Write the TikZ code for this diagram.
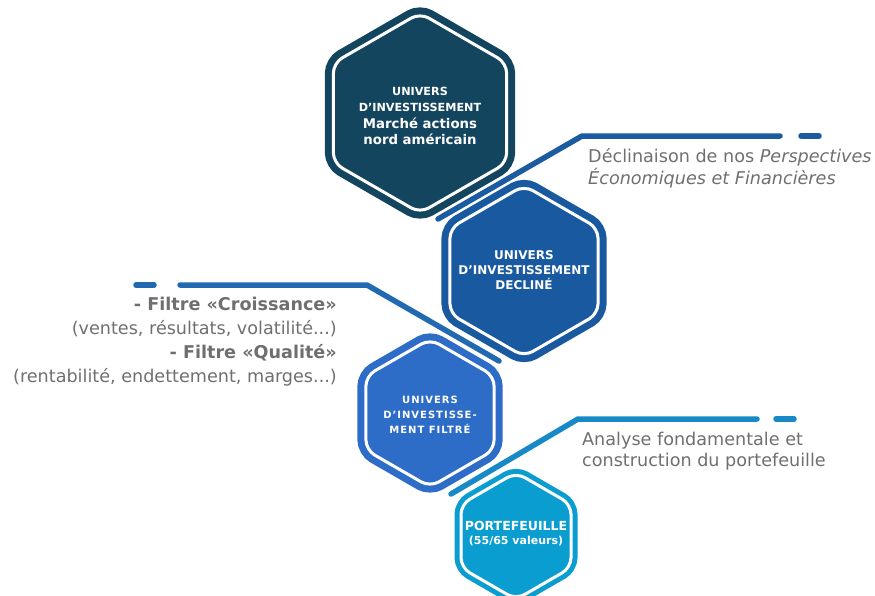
\documentclass[tikz,border=0pt]{standalone}
\usepackage{fontspec}
\setmainfont{DejaVu Sans}
\newfontfamily\espacee[LetterSpace=10]{DejaVu Sans}
\usetikzlibrary{shapes.geometric}
\definecolor{univers}{HTML}{14455F}
\definecolor{decline}{HTML}{1959A0}
\definecolor{filtre}{HTML}{2D6CC7}
\definecolor{portef}{HTML}{0A9DD0}
\definecolor{lienA}{HTML}{1A5C9F}
\definecolor{lienB}{HTML}{2169B1}
\definecolor{lienC}{HTML}{1889C7}
\definecolor{gristexte}{HTML}{6F6F6F}
\begin{document}
\begin{tikzpicture}[
	x=1pt,y=-1pt,
	hexa/.style={regular polygon,regular polygon sides=6,shape border rotate=90,
		inner sep=0pt,rounded corners=10pt,line width=7pt,double=white,
		double distance=3pt},
	hextexte/.style={inner sep=0pt,text=white,align=center},
	lien/.style={line width=5.5pt,line cap=round},
	note/.style={inner sep=0pt,text=gristexte,font=\fontsize{17.6}{22}\selectfont}
	]
	\useasboundingbox (0,0) rectangle (875,595);
	\coordinate (a1) at (438,219);
	\coordinate (a2) at (582,136);
	\coordinate (a3) at (780,136);
	\coordinate (a4) at (801,136);
	\coordinate (a5) at (819,136);
	\coordinate (b1) at (136,285);
	\coordinate (b2) at (154,285);
	\coordinate (b3) at (180,285);
	\coordinate (b4) at (367,285);
	\coordinate (b5) at (499,361);
	\coordinate (c1) at (451,494);
	\coordinate (c2) at (578,419);
	\coordinate (c3) at (757,419);
	\coordinate (c4) at (776,419);
	\coordinate (c5) at (794,419);
	\draw[lien,lienA] (a1) -- (a2) -- (a3);
	\draw[lien,lienA] (a4) -- (a5);
	\draw[lien,lienB] (b1) -- (b2);
	\draw[lien,lienB] (b3) -- (b4) -- (b5);
	\draw[lien,lienC] (c1) -- (c2) -- (c3);
	\draw[lien,lienC] (c4) -- (c5);
	\node[hexa,draw=univers,fill=univers,minimum size=200pt] (univers) at (420,113) {};
	\node[hexa,draw=decline,fill=decline,minimum size=171pt] (decline) at (524,271) {};
	\node[hexa,draw=filtre,fill=filtre,minimum size=148pt] (filtre) at (430,413) {};
	\node[hexa,draw=portef,fill=portef,minimum size=127pt,line width=5pt] (portef) at (516,536) {};
	\node[hextexte,font=\bfseries\fontsize{11.2}{16.3}\selectfont] (t-univers) at (420,116)
		{UNIVERS\\D’INVESTISSEMENT\\\fontsize{13.3}{16.3}\selectfont Marché actions\\\fontsize{13.3}{16.3}\selectfont nord américain};
	\node[hextexte,font=\bfseries\fontsize{12}{15}\selectfont] (t-decline) at (524,270)
		{UNIVERS\\D’INVESTISSEMENT\\DECLINÉ};
	\node[hextexte,font=\espacee\bfseries\fontsize{10}{15}\selectfont] (t-filtre) at (430,415)
		{UNIVERS\\D’INVESTISSE-\\MENT FILTRÉ};
	\node[hextexte,font=\bfseries\fontsize{12.5}{14}\selectfont] (t-portef) at (516,534)
		{PORTEFEUILLE\\\fontsize{11}{14}\selectfont (55/65 valeurs)};
	\node[note,anchor=north west,align=left] (decl) at (588,148)
		{Déclinaison de nos \textit{Perspectives}\\\textit{Économiques et Financières}};
	\node[note,anchor=north east,align=right,font=\fontsize{17.6}{24}\selectfont] (filtres) at (337,297)
		{\textbf{- Filtre «Croissance»}\\(ventes, résultats, volatilité...)\\\textbf{- Filtre «Qualité»}\\(rentabilité, endettement, marges...)};
	\node[note,anchor=north west,align=left,font=\fontsize{17.6}{21}\selectfont] (analyse) at (582,432)
		{Analyse fondamentale et\\construction du portefeuille};
\end{tikzpicture}
\end{document}
